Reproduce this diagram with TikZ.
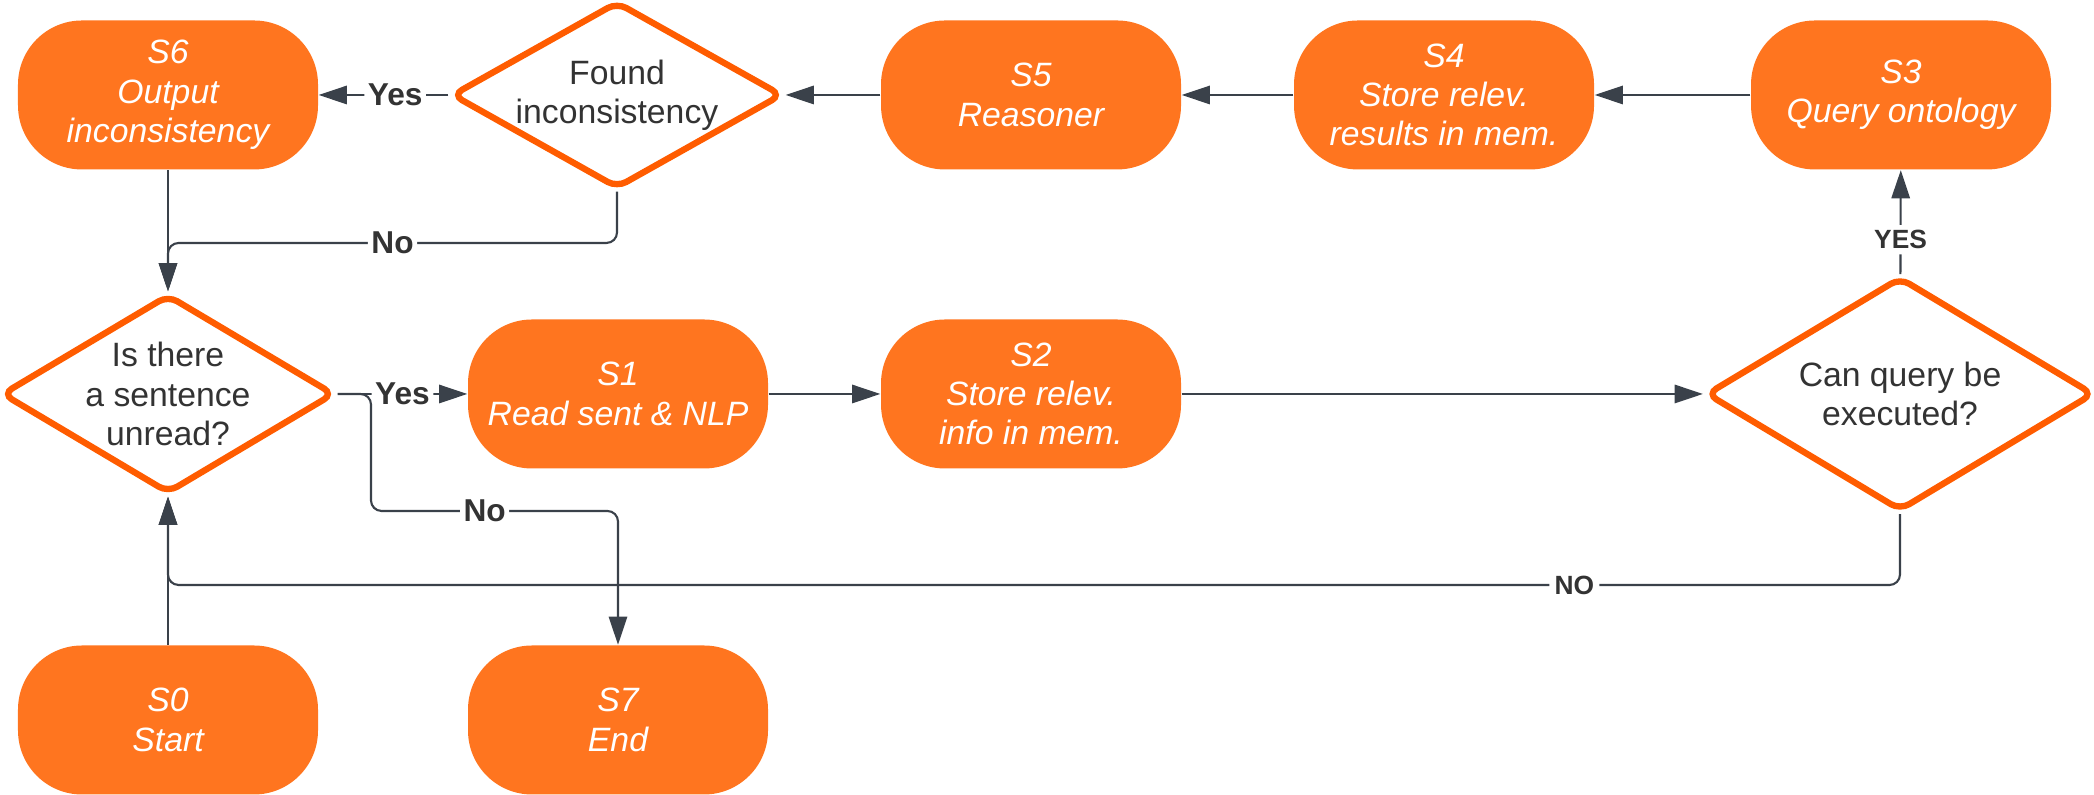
\documentclass[tikz,border=0pt]{standalone}
\usepackage{fontspec}
\setmainfont{Liberation Sans}
\usepackage{tikz}
\usetikzlibrary{arrows.meta,shapes.geometric}
\definecolor{boxorange}{RGB}{255,117,31}
\definecolor{lineorange}{RGB}{255,92,0}
\definecolor{edgegrey}{RGB}{58,65,74}
\definecolor{txtgrey}{RGB}{51,51,51}

\begin{document}
\begin{tikzpicture}[
	stbox/.style={rectangle, rounded corners=0.64cm, fill=boxorange, minimum width=3cm, minimum height=1.49cm, text=white, align=center, font=\fontsize{9.6}{11.2}\selectfont\itshape},
	decide/.style={diamond, draw=lineorange, line width=1.8pt, fill=white, rounded corners=3pt, inner sep=0pt},
	dtext/.style={text=txtgrey, align=center, font=\fontsize{9.6}{11.2}\selectfont},
	edge/.style={draw=edgegrey, line width=0.6pt, rounded corners=3pt, -{Triangle[length=8pt,width=5.2pt]}},
	lbl/.style={fill=white, inner sep=1pt, text=txtgrey, font=\fontsize{9}{10}\selectfont\bfseries},
	lblcap/.style={fill=white, inner sep=1.5pt, text=txtgrey, font=\fontsize{7.5}{9}\selectfont\bfseries}
	]
			%%%%% START %%%%%
			\useasboundingbox (0, 0) rectangle (20.94, 7.95);
			
			% top row
			\node[stbox] (s6) at (1.68, 7.00) {S6\\Output\\inconsistency};
			\node[decide, minimum width=3.31cm, minimum height=1.87cm] (found) at (6.17, 7.00) {};
			\node[dtext] (foundtxt) at (found) {Found\\inconsistency};
			\node[stbox] (s5) at (10.31, 7.00) {S5\\Reasoner};
			\node[stbox] (s4) at (14.44, 7.00) {S4\\Store relev.\\results in mem.};
			\node[stbox] (s3) at (19.01, 7.00) {S3\\Query ontology};
			
			% middle row
			\node[decide, minimum width=3.33cm, minimum height=1.99cm] (is) at (1.68, 4.01) {};
			\node[dtext] (istxt) at (is) {Is there\\a sentence\\unread?};
			\node[stbox] (s1) at (6.18, 4.01) {S1\\Read sent \& NLP};
			\node[stbox] (s2) at (10.31, 4.01) {S2\\Store relev.\\info in mem.};
			\node[decide, minimum width=3.88cm, minimum height=2.34cm] (can) at (19.00, 4.01) {};
			\node[dtext] (cantxt) at (can) {Can query be\\executed?};
			
			% bottom row
			\node[stbox] (s0) at (1.68, 0.75) {S0\\Start};
			\node[stbox] (s7) at (6.18, 0.75) {S7\\End};
			
			\coordinate (nobend) at (1.68, 5.52);
			\coordinate (nosplit) at (3.71, 4.01);
			\coordinate (nodrop) at (3.71, 2.84);
			\coordinate (nobot) at (1.68, 2.10);
			
			\draw[edge] (s3) -- (s4);
			\draw[edge] (s4) -- (s5);
			\draw[edge] (s5) -- (found);
			\draw[edge] (found) -- node[lbl, pos=0.41] (yesup) {Yes} (s6);
			\draw[edge] (found.south) |- node[lbl, pos=0.75] (noup) {No} (nobend) -- (is.north);
			\draw[edge] (s6) -- (is);
			
			\draw[edge] (is) -- node[lbl, pos=0.5] (yesmid) {Yes} (s1);
			\draw[edge] (is.east) -- (nosplit) -- (nodrop) -| node[lbl, pos=0.23] (nomid) {No} (s7.north);
			\draw[edge] (s1) -- (s2);
			\draw[edge] (s2) -- (can);
			\draw[edge] (can) -- node[lblcap, pos=0.33] (yescan) {YES} (s3);
			\draw[edge] (can.south) |- node[lblcap, pos=0.594] (nocan) {NO} (nobot) -- (is.south);
			\draw[edge] (s0) -- (is);
			
			%%%%% END %%%%%
\end{tikzpicture}
\end{document}
